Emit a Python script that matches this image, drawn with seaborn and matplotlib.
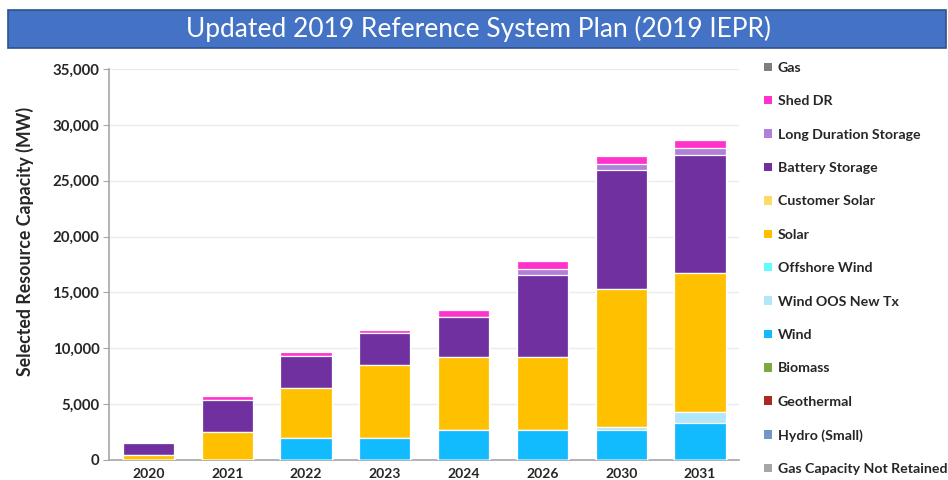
import numpy as np
import pandas as pd
import matplotlib
matplotlib.use("Agg")
import matplotlib.pyplot as plt
import seaborn as sns
from matplotlib.patches import Patch, Rectangle

# categories
years = ["2020", "2021", "2022", "2023", "2024", "2026", "2030", "2031"]

# resource layers, bottom of the stack first (MW)
gas_not_retained = [0, 0, 0, 0, 0, 0, 0, 0]
hydro_small = [0, 0, 0, 0, 0, 0, 0, 0]
geothermal = [0, 0, 0, 0, 0, 0, 0, 0]
biomass = [0, 0, 0, 0, 0, 0, 0, 0]
wind = [0, 0, 1940, 1940, 2715, 2715, 2700, 3300]
wind_oos = [0, 0, 0, 0, 0, 0, 200, 1000]
offshore_wind = [0, 0, 0, 0, 0, 0, 0, 0]
solar = [450, 2450, 4500, 6535, 6475, 6475, 12375, 12470]
customer_solar = [0, 0, 0, 0, 0, 0, 0, 0]
battery = [1050, 2900, 2850, 2865, 3580, 7340, 10650, 10560]
long_duration = [0, 0, 0, 0, 0, 595, 600, 630]
shed_dr = [0, 350, 330, 295, 655, 685, 660, 655]
gas = [0, 0, 0, 0, 0, 0, 0, 0]

layers = [
    ("Gas Capacity Not Retained", gas_not_retained, "#A6A6A6"),
    ("Hydro (Small)", hydro_small, "#6F97CC"),
    ("Geothermal", geothermal, "#A8291E"),
    ("Biomass", biomass, "#7EA83E"),
    ("Wind", wind, "#12BBFE"),
    ("Wind OOS New Tx", wind_oos, "#B2E6FB"),
    ("Offshore Wind", offshore_wind, "#5FFDFD"),
    ("Solar", solar, "#FFC000"),
    ("Customer Solar", customer_solar, "#FFD966"),
    ("Battery Storage", battery, "#7030A0"),
    ("Long Duration Storage", long_duration, "#B27FD9"),
    ("Shed DR", shed_dr, "#FF33CC"),
    ("Gas", gas, "#7F7F7F"),
]

sns.set_style("white")
plt.rcParams["font.family"] = ["Lato", "DejaVu Sans"]

fig = plt.figure(figsize=(9.48, 4.8), dpi=100)
ax = fig.add_axes([0.115, 0.042, 0.665, 0.814])

# stacked bars: draw cumulative totals from the top layer down
cum = np.cumsum([np.array(v, dtype=float) for _, v, _ in layers], axis=0)
for i in range(len(layers) - 1, -1, -1):
    name, _, color = layers[i]
    df = pd.DataFrame({"year": years, "mw": cum[i]})
    sns.barplot(data=df, x="year", y="mw", color=color, width=0.65,
                edgecolor="white", linewidth=0.9, saturation=1, ax=ax, zorder=3)

ax.set_ylim(0, 35000)
ax.set_xlim(-0.5, len(years) - 0.5)
ax.set_yticks(range(0, 35001, 5000))
ax.set_yticklabels([f"{v:,}" for v in range(0, 35001, 5000)], fontsize=10.8, fontweight="bold")
ax.yaxis.grid(True, color="#EBEBEB", linewidth=1, zorder=0)
ax.set_axisbelow(True)
ax.set_xlabel("")
ax.set_ylabel("Selected Resource Capacity (MW)", fontsize=12.8, fontweight="bold")
ax.yaxis.set_label_coords(-0.119, 0.56)

for lab in ax.get_xticklabels():
    lab.set_fontweight("bold")
    lab.set_fontsize(10)
ax.tick_params(axis="x", which="major", length=0, pad=6)
ax.set_xticks(np.arange(-0.5, len(years), 1.0), minor=True)
ax.tick_params(axis="x", which="minor", length=5, color="#A6A6A6", direction="out")
ax.tick_params(axis="y", length=4, color="#A6A6A6", left=True, pad=3)

sns.despine(ax=ax)
for s in ("left", "bottom"):
    ax.spines[s].set_color("#A6A6A6")
    ax.spines[s].set_linewidth(1.2)

# title bar
fig.patches.append(Rectangle((0.0084, 0.9), 0.9895, 0.079, transform=fig.transFigure,
                             facecolor="#4472C4", edgecolor="#2F528F", linewidth=1.2))
fig.text(0.505, 0.9395, "Updated 2019 Reference System Plan (2019 IEPR)", color="white",
         fontsize=19, ha="center", va="center")

# legend (top entry first)
handles = [Patch(facecolor=c, edgecolor="none", label=n) for n, _, c in layers[::-1]]
fig.legend(handles=handles, loc="upper left", bbox_to_anchor=(0.800, 0.883),
           frameon=False, prop={"weight": "bold", "size": 10.2},
           handlelength=0.55, handleheight=0.55, handletextpad=0.4,
           labelspacing=1.51, borderaxespad=0)

fig.savefig("out.png", dpi=100)
